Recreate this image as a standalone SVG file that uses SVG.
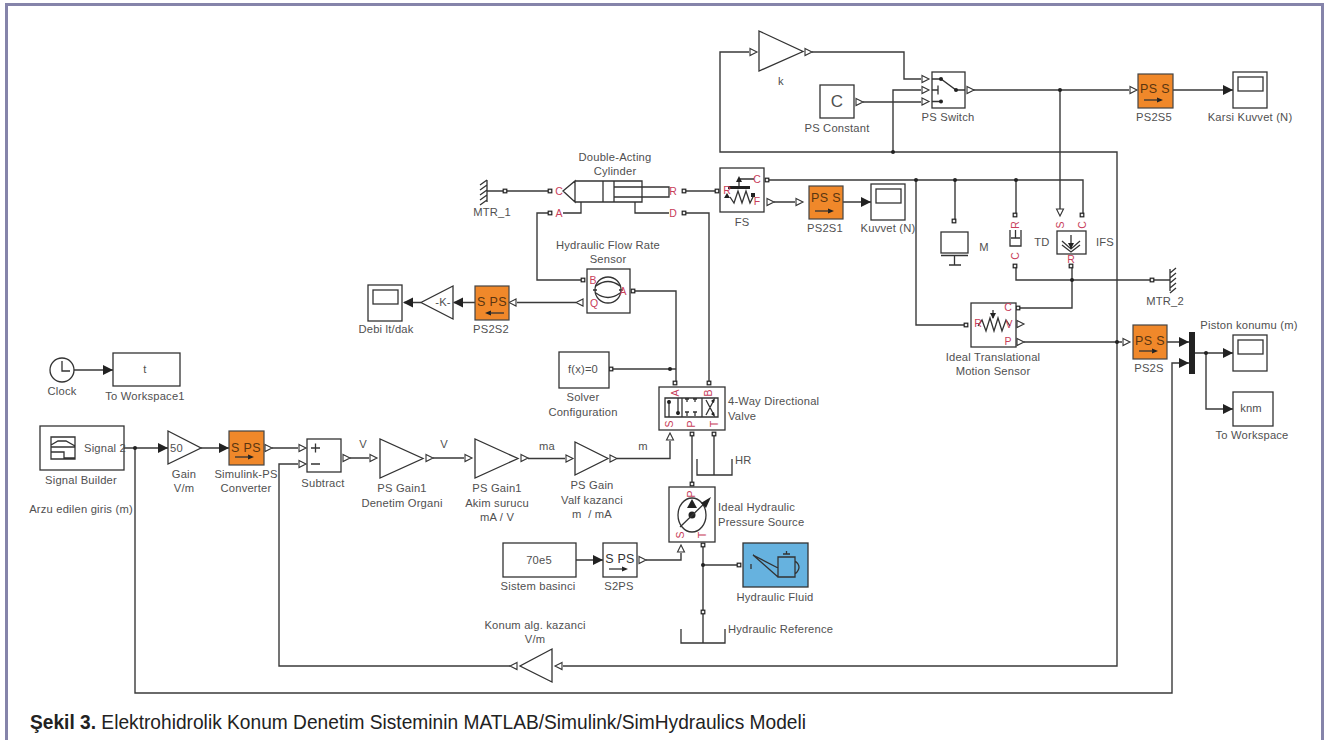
<svg xmlns="http://www.w3.org/2000/svg" width="1329" height="740" viewBox="0 0 1329 740">
<style>
text{font-family:"Liberation Sans",Arial,sans-serif}
.t{font-size:11.2px;fill:#505050;text-anchor:middle;letter-spacing:.2px}
.l{font-size:11.2px;fill:#505050;text-anchor:start;letter-spacing:.2px}
.r{font-size:10.5px;fill:#c8405a;text-anchor:middle;dominant-baseline:central}
.b{fill:#fff;stroke:#333;stroke-width:1.3}
.o{fill:#f0882a;stroke:#444;stroke-width:1.2}
.n{fill:none;stroke:#333;stroke-width:1.3}
.k{fill:#222;stroke:none}
.c{fill:none;stroke:#3a3a3a;stroke-width:1.4}
.ot{font-size:12.5px;fill:#5a3510;text-anchor:middle;letter-spacing:.4px}
</style>
<defs>
<path id="ah" class="k" d="M-10,-5L0,0L-10,5Z"/>
<path id="tr" d="M-3,-3.5L4,0L-3,3.5Z" fill="#fff" stroke="#333" stroke-width="1.1"/>
<path id="tl" d="M3,-3.5L-4,0L3,3.5Z" fill="#fff" stroke="#333" stroke-width="1.1"/>
<path id="td" d="M-3.5,-3L0,4L3.5,-3Z" fill="#fff" stroke="#333" stroke-width="1.1"/>
<path id="tu" d="M-3.5,3L0,-4L3.5,3Z" fill="#fff" stroke="#333" stroke-width="1.1"/>
<rect id="pt" x="-1.8" y="-1.8" width="3.6" height="3.6" fill="#eee" stroke="#222" stroke-width="1.2"/>
<circle id="j" r="2" fill="#222"/>
<g id="scope"><rect class="b" width="34" height="36"/><rect class="b" x="5" y="5" width="25" height="14"/></g>
<g id="arr"><path class="k" d="M18,0L12,-2.5V2.5Z"/><path class="n" d="M-1,0H13"/></g>
</defs>
<rect width="1329" height="740" fill="#fff"/>
<path d="M6.5,740V4.5H1322.5V740" fill="none" stroke="#8584aa" stroke-width="3"/>

<g id="connectors">
<path class="c" d="M487,191H505M505,191H550"/>
<path class="c" d="M550,213H537V280H583"/>
<path class="c" d="M684,213H709V383"/>
<path class="c" d="M684,191H717"/>
<path class="c" d="M633,291H676V383"/>
<path class="c" d="M576,302.500H517"/>
<path class="c" d="M475,302.500H454M421,302.500H404"/>
<path class="c" d="M767,180H1083V215"/>
<path class="c" d="M916,180V325H964"/>
<path class="c" d="M955,180V221M1016,180V215"/>
<path class="c" d="M774,202H795M843,202H871"/>
<path class="c" d="M1016,266V280H1170"/>
<path class="c" d="M1072,266V308H1018"/>
<path class="c" d="M973,90H1129M1173,90H1233M1060,90V209"/>
<path class="c" d="M749,52H720V152H1117V666H563"/>
<path class="c" d="M510,666H279V464H298"/>
<path class="c" d="M812,52H904V79H921"/>
<path class="c" d="M863,102H921"/>
<path class="c" d="M893,152V90H921"/>
<path class="c" d="M1024,342H1122M1167,342H1189"/>
<path class="c" d="M135,448V693H1172V363H1189"/>
<path class="c" d="M1195,353H1233M1206,353V409H1233"/>
<path class="c" d="M124,448H168M201,448H229M272,448H298M350,458H369M433,458H464M528,458.500H565M617,458.500H670V441"/>
<path class="c" d="M611,369H676"/>
<path class="c" d="M692,434V484M714,434V475"/>
<path class="c" d="M646,560H681V553"/>
<path class="c" d="M703,545V643M703,565H739"/>
<path class="c" d="M576,560H603M74,370H113"/>
<use href="#j" x="135" y="448"/><use href="#j" x="670" y="369"/><use href="#j" x="916" y="180"/><use href="#j" x="955" y="180"/><use href="#j" x="1016" y="180"/>
<use href="#j" x="1060" y="90"/><use href="#j" x="893" y="152"/><use href="#j" x="1072" y="280"/><use href="#j" x="1117" y="342"/><use href="#j" x="1206" y="353"/><use href="#j" x="703" y="565"/>
<use href="#pt" x="505" y="191"/><use href="#pt" x="550" y="191"/><use href="#pt" x="550" y="213"/><use href="#pt" x="684" y="191"/><use href="#pt" x="684" y="213"/>
<use href="#pt" x="717" y="191"/><use href="#pt" x="583" y="280"/><use href="#pt" x="633" y="291"/><use href="#pt" x="767" y="180"/><use href="#pt" x="954" y="221"/>
<use href="#pt" x="1015" y="215"/><use href="#pt" x="1082" y="215"/><use href="#pt" x="1015" y="266"/><use href="#pt" x="1071" y="266"/><use href="#pt" x="1018" y="308"/>
<use href="#pt" x="966" y="325"/><use href="#pt" x="1152" y="280"/><use href="#pt" x="611" y="369"/><use href="#pt" x="675" y="383"/><use href="#pt" x="709" y="383"/>
<use href="#pt" x="692" y="434"/><use href="#pt" x="714" y="434"/><use href="#pt" x="692" y="484"/><use href="#pt" x="703" y="545"/><use href="#pt" x="739" y="565"/><use href="#pt" x="703" y="612"/>
<use href="#tl" x="580" y="302.500"/><use href="#tl" x="513" y="302.500"/><use href="#tr" x="770" y="202"/><use href="#tr" x="799" y="202"/><use href="#tr" x="925" y="79"/><use href="#tr" x="925" y="90"/><use href="#tr" x="925" y="101.500"/>
<use href="#tr" x="970" y="90"/><use href="#tr" x="859" y="102"/><use href="#tr" x="1133" y="90"/><use href="#tr" x="753" y="52"/><use href="#tr" x="808" y="52"/><use href="#td" x="1060" y="212"/><use href="#tr" x="1020" y="324"/><use href="#tr" x="1020" y="342"/><use href="#tr" x="1126" y="342"/>
<use href="#tr" x="268" y="448"/><use href="#tr" x="302" y="448"/><use href="#tr" x="302" y="464"/><use href="#tr" x="346" y="458"/><use href="#tr" x="373" y="458"/><use href="#tr" x="429" y="458"/><use href="#tr" x="468" y="458"/><use href="#tr" x="524" y="458"/><use href="#tr" x="569" y="458.500"/><use href="#tr" x="613" y="458.500"/>
<use href="#tu" x="670" y="437"/><use href="#tu" x="681" y="549"/><use href="#tr" x="642" y="560"/><use href="#tl" x="514" y="666"/><use href="#tl" x="559" y="666"/>
<use href="#ah" x="113" y="370"/><use href="#ah" x="168" y="448"/><use href="#ah" x="229" y="448"/><use href="#ah" x="603" y="560"/><use href="#ah" x="871" y="202"/><use href="#ah" x="1233" y="90"/><use href="#ah" x="1189" y="342"/><use href="#ah" x="1189" y="363"/><use href="#ah" x="1233" y="353"/><use href="#ah" x="1233" y="409"/>
<use href="#ah" transform="translate(403,302.500) rotate(180)"/><use href="#ah" transform="translate(453,302.500) rotate(180)"/>
</g>

<g id="mtr1"><path class="n" d="M487,180V202M480,185L487,180M480,190L487,185M480,195L487,190M480,200L487,195M480,205L487,200"/><text class="t" x="492" y="216">MTR_1</text></g>

<g id="cylinder">
<path class="n" d="M563,191L575,181V202ZM575,181H642V202H575ZM603,181V202M614,181V202M614,187H669V197H614Z"/>
<path class="n" d="M563,213H581V202M669,213H635V202"/>
<text class="r" x="559" y="191">C</text><text class="r" x="673" y="191">R</text><text class="r" x="559" y="213">A</text><text class="r" x="673" y="213">D</text>
<text class="t" x="615" y="161">Double-Acting</text><text class="t" x="615" y="175">Cylinder</text>
</g>

<g id="fs"><rect class="b" x="720" y="168" width="44" height="44"/>
<path class="n" d="M730,197L734,203L738,191L742,203L746,191L750,203L754,195"/>
<rect class="k" x="728" y="186" width="22" height="3"/>
<path class="n" d="M739,186V179H754"/><path class="k" d="M739,176L736,182H742Z"/>
<path class="k" d="M727,193L724,198H730Z"/><rect class="k" x="751" y="193" width="4" height="4"/>
<text class="r" x="727" y="190">R</text><text class="r" x="757" y="179">C</text><text class="r" x="757" y="201">F</text>
<text class="t" x="742" y="226">FS</text></g>

<g id="ps2s1"><rect class="o" x="809" y="186" width="34" height="33"/><text class="ot" x="826" y="202">PS S</text><use href="#arr" transform="translate(816,211)"/><text class="t" x="825" y="232">PS2S1</text></g>
<g id="kuvvet"><use href="#scope" x="871" y="184"/><text class="t" x="888" y="232">Kuvvet (N)</text></g>

<g id="flowsensor"><rect class="b" x="587" y="269" width="43" height="44"/>
<circle class="n" cx="608" cy="290" r="13"/><path class="n" d="M596,286Q608,277 620,286M596,293Q608,302 620,293M593,290H597M619,290H623"/>
<text class="r" x="593" y="280">B</text><text class="r" x="594" y="303">Q</text><text class="r" x="623" y="291">A</text>
<text class="t" x="608" y="249">Hydraulic Flow Rate</text><text class="t" x="608" y="263">Sensor</text></g>

<g id="ps2s2"><rect class="o" x="475" y="286" width="34" height="34"/><text class="ot" x="492" y="306">S PS</text>
<use href="#arr" transform="translate(503,313) rotate(180)"/><text class="t" x="491" y="333">PS2S2</text></g>
<g id="gaink"><path class="b" d="M453,286V319L421,302.500Z"/><text class="t" x="443" y="306">-K-</text></g>
<g id="debi"><use href="#scope" x="368" y="285"/><text class="t" x="386" y="333">Debi lt/dak</text></g>

<g id="gainKlbl"><path class="b" d="M759,31L803,51.500L759,71Z"/><text class="t" x="781" y="85">k</text></g>
<g id="psconstant"><rect class="b" x="820" y="85" width="34" height="33"/><text class="t" x="837" y="107" style="font-size:17px;letter-spacing:0">C</text><text class="t" x="837" y="132">PS Constant</text></g>
<g id="psswitch"><rect class="b" x="932" y="72" width="33" height="36"/>
<path class="n" d="M932,79H941L956,90H965M932,90H938M938,85.500V94.500M932,101.500H941"/><use href="#j" x="941" y="79"/><use href="#j" x="956" y="90"/><use href="#j" x="941" y="101.500"/>
<text class="t" x="948" y="121">PS Switch</text></g>
<g id="ps2s5"><rect class="o" x="1138" y="74" width="35" height="34"/><text class="ot" x="1155" y="93">PS S</text><use href="#arr" transform="translate(1145,100)"/><text class="t" x="1154" y="121">PS2S5</text></g>
<g id="karsi"><use href="#scope" x="1233" y="72"/><text class="t" x="1250" y="121">Karsi Kuvvet (N)</text></g>

<g id="mass"><rect class="b" x="941" y="232" width="27" height="21"/><path class="n" d="M941,255.500H968M954.500,255.500V265M949,265H961"/><text class="t" x="984" y="251">M</text></g>
<g id="td"><path class="n" d="M1010,230V246H1021V230M1015.500,230V238M1011,238H1020"/><text class="r" x="1015" y="225" transform="rotate(-90 1015 225)">R</text><text class="r" x="1015" y="256" transform="rotate(-90 1015 256)">C</text><text class="t" x="1042" y="246">TD</text></g>
<g id="ifs"><rect class="b" x="1057" y="231" width="29" height="23"/>
<path class="n" d="M1071,235V248M1062,241L1071,249L1080,241M1062,245L1071,252L1080,245"/><path class="k" d="M1071,249L1068,243H1074Z"/>
<text class="r" x="1060" y="225" transform="rotate(-90 1060 225)">S</text><text class="r" x="1082" y="225" transform="rotate(-90 1082 225)">C</text><text class="r" x="1071" y="259">R</text><text class="t" x="1105" y="246">IFS</text></g>
<g id="mtr2"><path class="n" d="M1170,269V291M1170,273L1176,268M1170,278L1176,273M1170,283L1176,278M1170,288L1176,283M1170,293L1176,288"/><text class="t" x="1165" y="305">MTR_2</text></g>

<g id="motionsensor"><rect class="b" x="971" y="303" width="45" height="44"/>
<path class="n" d="M978,326L982,320L986,331L990,318L994,331L998,318L1002,331L1006,320L1010,326M993,310V318"/><path class="k" d="M993,319L990,313H996Z"/>
<text class="r" x="1008" y="307">C</text><text class="r" x="978" y="323">R</text><text class="r" x="1009" y="324">V</text><text class="r" x="1008" y="341">P</text>
<text class="t" x="993" y="361">Ideal Translational</text><text class="t" x="993" y="375">Motion Sensor</text></g>

<g id="ps2s"><rect class="o" x="1133" y="325" width="34" height="34"/><text class="ot" x="1150" y="345">PS S</text><use href="#arr" transform="translate(1140,351)"/><text class="t" x="1149" y="372">PS2S</text></g>
<g id="mux"><rect class="k" x="1189" y="332" width="6" height="42"/></g>
<g id="piston"><use href="#scope" x="1233" y="335"/><text class="t" x="1249" y="329">Piston konumu (m)</text></g>
<g id="toworkspace"><rect class="b" x="1233" y="392" width="40" height="34"/><text class="t" x="1251" y="412">knm</text><text class="t" x="1252" y="439">To Workspace</text></g>

<g id="clock"><circle class="n" cx="62" cy="370" r="12"/><path class="n" d="M62,361V371H70"/><text class="t" x="62" y="395">Clock</text></g>
<g id="toworkspace1"><rect class="b" x="113" y="353" width="67" height="33"/><text class="t" x="145" y="373">t</text><text class="t" x="145" y="400">To Workspace1</text></g>
<g id="signalbuilder"><rect class="b" x="40" y="426" width="84" height="44"/>
<path class="n" d="M51,437H75V459H51ZM51,447H75M51,445L58,441H66L75,446M51,452H64V458H75"/>
<text class="l" x="84" y="452">Signal 2</text><text class="t" x="81" y="484">Signal Builder</text><text class="t" x="81" y="513">Arzu edilen giris (m)</text></g>
<g id="gain"><path class="b" d="M168,431V464L201,448Z"/><text class="l" x="170" y="452">50</text><text class="t" x="184" y="478">Gain</text><text class="t" x="184" y="492">V/m</text></g>
<g id="simulinkps"><rect class="o" x="229" y="431" width="35" height="34"/><text class="ot" x="246" y="452">S PS</text><use href="#arr" transform="translate(236,457)"/><text class="t" x="246" y="478">Simulink-PS</text><text class="t" x="246" y="492">Converter</text></g>
<g id="subtract"><rect class="b" x="307" y="439" width="34" height="33"/><path class="n" d="M311,448H320M315.500,443.500V452.500M311,464H320"/><text class="t" x="323" y="487">Subtract</text></g>
<g id="denetim"><path class="b" d="M380,439V478L423,458.500Z"/><text class="t" x="402" y="492">PS Gain1</text><text class="t" x="402" y="507">Denetim Organi</text><text class="t" x="363" y="448">V</text><text class="t" x="444" y="448">V</text></g>
<g id="akim"><path class="b" d="M475,439V478L518,458.500Z"/><text class="t" x="497" y="492">PS Gain1</text><text class="t" x="497" y="507">Akim surucu</text><text class="t" x="497" y="521">mA / V</text><text class="t" x="547" y="450">ma</text></g>
<g id="valf"><path class="b" d="M575,442V475L608,458.500Z"/><text class="t" x="592" y="489">PS Gain</text><text class="t" x="592" y="504">Valf kazanci</text><text class="t" x="592" y="518" xml:space="preserve">m  / mA</text><text class="t" x="643" y="450">m</text></g>
<g id="solver"><rect class="b" x="559" y="352" width="50" height="36"/><text class="t" x="583" y="373">f(x)=0</text><text class="t" x="583" y="401">Solver</text><text class="t" x="583" y="416">Configuration</text></g>

<g id="valve"><rect class="b" x="659" y="387" width="66" height="43"/>
<path class="n" d="M665,398H718V417H665ZM682,398V417M702,398V417M669,400V417M678,398V415M687,399V402M685,399H689M695,399V402M693,399H697M687,412V416M685,412H689M695,412V416M693,412H697M706,400L714,415M714,400L706,415"/>
<use href="#j" x="669" y="402"/><use href="#j" x="678" y="413"/>
<path class="k" d="M715,398L711,401L714,403ZM715,417L711,414L714,412Z"/>
<text class="r" x="675" y="393" transform="rotate(-90 675 393)">A</text><text class="r" x="708" y="393" transform="rotate(-90 708 393)">B</text><text class="r" x="669" y="424" transform="rotate(-90 669 424)">S</text><text class="r" x="691" y="424" transform="rotate(-90 691 424)">P</text><text class="r" x="714" y="424" transform="rotate(-90 714 424)">T</text>
<text class="l" x="728" y="405">4-Way Directional</text><text class="l" x="728" y="420">Valve</text></g>
<g id="hr"><path class="n" d="M697,459V475H732V459"/><text class="l" x="735" y="464">HR</text></g>
<g id="source"><rect class="b" x="669" y="487" width="46" height="55"/>
<ellipse class="n" cx="692" cy="515" rx="14" ry="17"/><path class="k" d="M692,499L687,508H697Z"/><circle class="k" cx="692" cy="515" r="3.500"/><path class="n" d="M680,527L708,500"/><path class="k" d="M711,497L701,503L706,508Z"/>
<text class="r" x="691" y="494" transform="rotate(-90 691 494)">P</text><text class="r" x="680" y="535" transform="rotate(-90 680 535)">S</text><text class="r" x="702" y="535" transform="rotate(-90 702 535)">T</text>
<text class="l" x="718" y="511">Ideal Hydraulic</text><text class="l" x="718" y="526">Pressure Source</text></g>
<g id="sistem"><rect class="b" x="503" y="543" width="73" height="34"/><text class="t" x="539" y="564">70e5</text><text class="t" x="538" y="590">Sistem basinci</text></g>
<g id="s2ps"><rect class="b" x="603" y="543" width="34" height="34"/><text class="t" x="620" y="563" style="font-size:12.5px;fill:#333">S PS</text><use href="#arr" transform="translate(610,569)"/><text class="t" x="619" y="590">S2PS</text></g>
<g id="fluid"><rect x="743" y="543" width="65" height="44" fill="#66b2df" stroke="#333" stroke-width="1.3"/>
<path class="n" d="M778,557H795V577H778ZM778,568L753,555L778,577M783,554H790M786.500,554V551M795,561Q803,567 795,574"/><path class="n" d="M751,564V569"/>
<text class="t" x="775" y="601">Hydraulic Fluid</text></g>
<g id="hydref"><path class="n" d="M681,629V643H725V629"/><text class="l" x="728" y="633">Hydraulic Reference</text></g>
<g id="konum"><path class="b" d="M552,649V682L520,666Z"/><text class="t" x="535" y="629">Konum alg. kazanci</text><text class="t" x="535" y="643">V/m</text></g>
<g id="caption"><text x="30" y="729" style="font-size:21px;fill:#222" textLength="776" lengthAdjust="spacingAndGlyphs"><tspan font-weight="bold">Şekil 3.</tspan> Elektrohidrolik Konum Denetim Sisteminin MATLAB/Simulink/SimHydraulics Modeli</text></g>
</svg>
